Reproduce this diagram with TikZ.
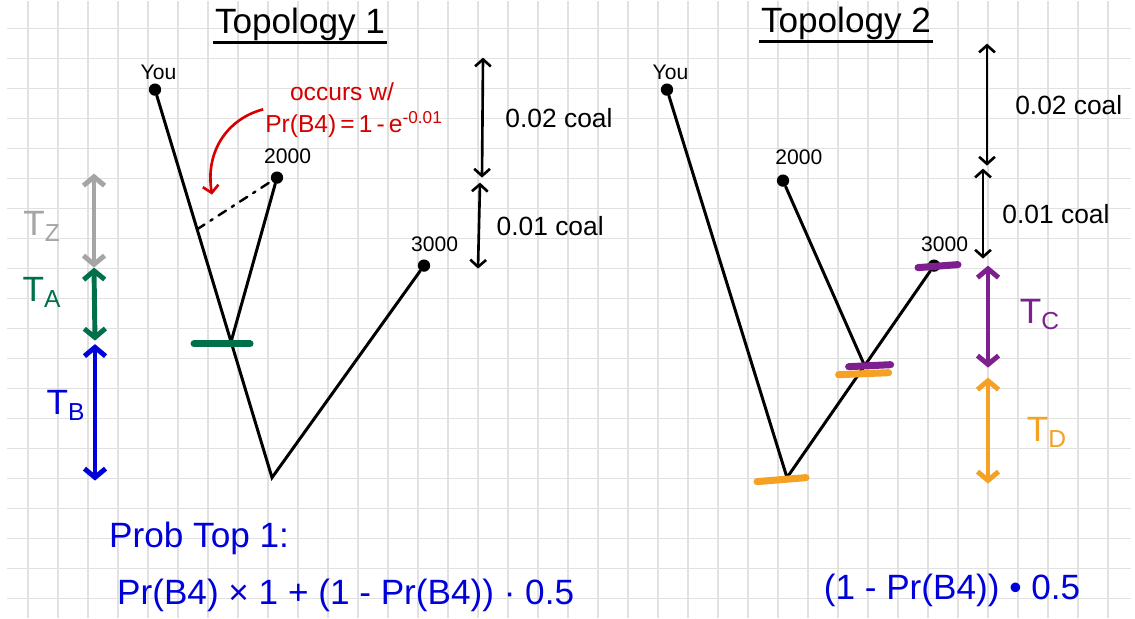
\documentclass[tikz,border=0pt]{standalone}
\definecolor{gridgray}{HTML}{E1E1E1}
\definecolor{inkred}{HTML}{D60000}
\definecolor{inkgreen}{HTML}{00704A}
\definecolor{inkblue}{HTML}{0000D8}
\definecolor{inkgray}{HTML}{A5A5A5}
\definecolor{inkpurple}{HTML}{7D1F8E}
\definecolor{inkorange}{HTML}{F5A124}
\usepackage{fontspec}
\setmainfont{Liberation Sans}
\usepackage{tikz}
\usetikzlibrary{arrows.meta,positioning,calc}

\begin{document}
\begin{tikzpicture}[x=0.02cm, y=-0.02cm, font=\fontsize{15}{17}\selectfont,
    branch/.style={line width=1.7pt, line cap=round},
    leafdot/.style={circle, fill=black, inner sep=0pt, minimum size=7pt},
    leaf/.style={font=\fontsize{12}{14}\selectfont, inner sep=1pt},
    coalspan/.style={{Straight Barb[length=4pt,width=9pt]}-{Straight Barb[length=4pt,width=9pt]},
                     line width=1.5pt},
    tspan/.style={{Straight Barb[length=5pt,width=12pt]}-{Straight Barb[length=5pt,width=12pt]},
                  line width=2.8pt, line cap=round},
    tickbar/.style={line width=4pt, line cap=round},
    heading/.style={font=\fontsize{20}{23}\selectfont, inner sep=1pt, anchor=south},
    tlabel/.style={font=\fontsize{20}{23}\selectfont},
    redtext/.style={text=inkred, font=\fontsize{14}{16}\selectfont, inner sep=1pt},
    formula/.style={font=\fontsize{20}{24}\selectfont, text=inkblue, anchor=west}]

  \fill[white] (0,0) rectangle (1135,617);
  \foreach \gx in {28,58,...,1130}
    \draw[gridgray, line width=0.7pt] (\gx,0) -- (\gx,617);
  \foreach \gy in {28,58,...,610}
    \draw[gridgray, line width=0.7pt] (7,\gy) -- (1131,\gy);

  \node[heading] (top1) at (300,42) {Topology 1};
  \draw[line width=1.6pt] (top1.south west) -- (top1.south east);
  \node[heading] (top2) at (846,41) {Topology 2};
  \draw[line width=1.6pt] (top2.south west) -- (top2.south east);

  \node[leafdot] (you1) at (155,89) {};
  \node[leafdot] (ka1) at (277,177) {};
  \node[leafdot] (kb1) at (424,265) {};
  \coordinate (root1) at (272,477);
  \coordinate (join1) at ($(you1)!0.65!(root1)$);
  \coordinate (stub1) at ($(you1)!0.36!(root1)$);
  \node[leaf, above=1pt of you1, xshift=2pt] (youlab1) {You};
  \node[leaf, above=3pt of ka1, xshift=6pt] (kalab1) {2000};
  \node[leaf, above=3pt of kb1, xshift=6pt] (kblab1) {3000};
  \draw[branch] (you1) -- (root1) -- (kb1);
  \draw[branch] (ka1) -- (join1);
  \draw[branch, line width=1.4pt, dash pattern=on 5pt off 4pt on 1.5pt off 4pt] (stub1) -- (ka1);
  \draw[tickbar, inkgreen] ($(join1)+(-37,2)$) -- ($(join1)+(19,2)$);

  \node[redtext] (occur) at (342,91) {occurs w/};
  \node[redtext] (prb4) at (354,124) {Pr(B4)\,=\,1\,-\,e\textsuperscript{-0.01}};
  \coordinate (dip1) at (212,194);
  \draw[inkred, line width=1.5pt, -{Straight Barb[length=4pt,width=9pt]}]
    (prb4.north west) .. controls (228,118) and (205,150) .. (dip1);

  \coordinate (s1a) at (483,57);
  \coordinate (s1b) at (482,177);
  \coordinate (s1c) at (480,182);
  \coordinate (s1d) at (478,268);
  \draw[coalspan] (s1a) -- (s1b) node[midway, right=9pt] {0.02 coal};
  \draw[coalspan] (s1c) -- (s1d) node[midway, right=6pt] {0.01 coal};

  \coordinate (tz1) at (94,173);
  \coordinate (tz2) at (94,267);
  \coordinate (ta2) at (95,340);
  \coordinate (tb2) at (95,480);
  \draw[tspan, inkgray] (tz1) -- (tz2);
  \draw[tspan, inkgreen] (tz2) -- (ta2);
  \draw[tspan, inkblue] ([yshift=-2pt]ta2) -- (tb2);
  \node[tlabel, text=inkgray] (tzlab) at (42,226) {T\textsubscript{Z}};
  \node[tlabel, text=inkgreen] (talab) at (42,292) {T\textsubscript{A}};
  \node[tlabel, text=inkblue] (tblab) at (66,405) {T\textsubscript{B}};

  \node[leafdot] (you2) at (667,89) {};
  \node[leafdot] (ka2) at (783,180) {};
  \node[leafdot] (kb2) at (934,265) {};
  \coordinate (root2) at (787,477);
  \coordinate (join2) at ($(kb2)!0.472!(root2)$);
  \node[leaf, above=1pt of you2, xshift=2pt] (youlab2) {You};
  \node[leaf, above=4pt of ka2, xshift=9pt] (kalab2) {2000};
  \node[leaf, above=3pt of kb2, xshift=6pt] (kblab2) {3000};
  \draw[branch] (you2) -- (root2) -- (kb2);
  \draw[branch] (ka2) -- (join2);
  \draw[tickbar, inkpurple] ($(kb2)+(-16,2)$) -- ($(kb2)+(24,-1)$);
  \draw[tickbar, inkpurple] ($(join2)+(-16,1)$) -- ($(join2)+(26,-1)$);
  \draw[tickbar, inkorange] ($(join2)+(-26,9)$) -- ($(join2)+(24,7)$);
  \draw[tickbar, inkorange] ($(root2)+(-30,4)$) -- ($(root2)+(19,0)$);

  \coordinate (s2a) at (987,43);
  \coordinate (s2b) at (987,165);
  \coordinate (s2c) at (983,168);
  \coordinate (s2d) at (983,258);
  \draw[coalspan] (s2a) -- (s2b) node[midway, right=12pt] {0.02 coal};
  \draw[coalspan] (s2c) -- (s2d) node[midway, right=7pt] {0.01 coal};

  \coordinate (tc1) at (988,265);
  \coordinate (tc2) at (988,367);
  \coordinate (td1) at (988,377);
  \coordinate (td2) at (988,483);
  \draw[tspan, inkpurple] (tc1) -- (tc2);
  \draw[tspan, inkorange] (td1) -- (td2);
  \node[tlabel, text=inkpurple] (tclab) at (1040,314) {T\textsubscript{C}};
  \node[tlabel, text=inkorange] (tdlab) at (1047,432) {T\textsubscript{D}};

  \node[formula] (probtop) at (103,538) {Prob Top 1:};
  \node[formula] (sum1) at (111,595) {Pr(B4) × 1 + (1 - Pr(B4)) · 0.5};
  \node[formula, anchor=center] (sum2) at (952,590) {(1 - Pr(B4)) • 0.5};
\end{tikzpicture}
\end{document}
